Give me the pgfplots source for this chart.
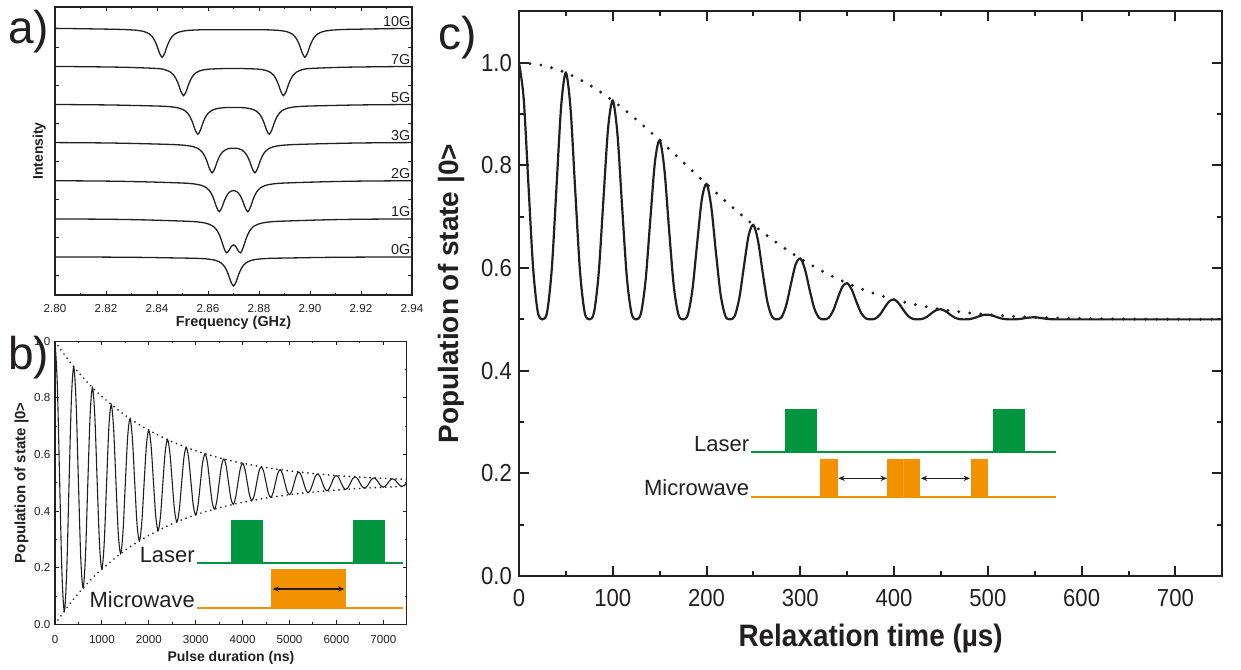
\documentclass[border=0pt]{standalone}
\usepackage{fontspec}
\setmainfont{Liberation Sans}
\newfontfamily\narrowfont[FakeStretch=0.9]{Liberation Sans}
\usepackage{pgfplots}
\pgfplotsset{compat=1.18}
\usetikzlibrary{arrows.meta}
\definecolor{lgreen}{RGB}{0,150,64}
\definecolor{morange}{RGB}{243,146,0}
\definecolor{ink}{RGB}{35,31,32}
\begin{document}
\begin{tikzpicture}[every node/.style={text=ink}]
\path[use as bounding box] (0,0) rectangle (620.5pt,334.5pt);

% ---------------- panel a ----------------
\begin{axis}[
 at={(27.5pt,187pt)}, anchor=south west, scale only axis,
 width=178.5pt, height=144pt,
 xmin=2.80, xmax=2.94, ymin=-1, ymax=6.55,
 xtick={2.80,2.82,2.84,2.86,2.88,2.90,2.92,2.94},
 minor x tick num=1,
 ytick={-0.5,0.5,1.5,2.5,3.5,4.5,5.5}, yticklabels={},
 tick align=inside, major tick length=2pt, minor tick length=1pt,
 axis line style={line width=0.6pt, ink},
 every tick/.style={line width=0.5pt, ink},
 xticklabel style={font=\fontsize{5.8}{6}\selectfont, yshift=-1.2pt,
   /pgf/number format/.cd, fixed, fixed zerofill, precision=2, assume math mode=true},
 xlabel={Frequency (GHz)}, ylabel={Intensity},
 every axis x label/.style={at={(axis description cs:0.5,-0.096)}, anchor=center, font=\bfseries\fontsize{7.2}{8}\selectfont},
 every axis y label/.style={at={(axis description cs:-0.044,0.5)}, anchor=center, rotate=90, font=\bfseries\fontsize{7}{8}\selectfont},
 clip=false,
]
\addplot[ink, line width=0.65pt, smooth] coordinates {(2.80,5.990)(2.81,5.981)(2.82,5.970)(2.827,5.960)(2.832,5.940)(2.835,5.905)(2.837,5.843)(2.838,5.782)(2.839,5.683)(2.840,5.531)(2.841,5.339)(2.842,5.232)(2.843,5.339)(2.844,5.530)(2.845,5.681)(2.846,5.780)(2.847,5.841)(2.849,5.901)(2.852,5.935)(2.857,5.952)(2.862,5.954)(2.870,5.954)(2.878,5.954)(2.883,5.952)(2.888,5.935)(2.891,5.901)(2.893,5.841)(2.894,5.780)(2.895,5.681)(2.896,5.530)(2.897,5.339)(2.898,5.232)(2.899,5.339)(2.900,5.531)(2.901,5.683)(2.902,5.782)(2.903,5.843)(2.905,5.905)(2.908,5.940)(2.913,5.960)(2.92,5.970)(2.93,5.981)(2.94,5.990)};
\addplot[ink, line width=0.65pt, smooth] coordinates {(2.80,4.993)(2.82,4.978)(2.83,4.965)(2.8404,4.936)(2.8434,4.900)(2.8454,4.838)(2.8464,4.776)(2.8474,4.677)(2.8484,4.525)(2.8494,4.334)(2.8504,4.226)(2.8514,4.332)(2.8524,4.522)(2.8534,4.673)(2.8544,4.771)(2.8554,4.831)(2.8574,4.890)(2.8604,4.921)(2.8654,4.935)(2.870,4.938)(2.8746,4.935)(2.8796,4.921)(2.8826,4.890)(2.8846,4.831)(2.8856,4.771)(2.8866,4.673)(2.8876,4.522)(2.8886,4.332)(2.8896,4.226)(2.8906,4.334)(2.8916,4.525)(2.8926,4.677)(2.8936,4.776)(2.8946,4.838)(2.8966,4.900)(2.8996,4.936)(2.91,4.965)(2.92,4.978)(2.94,4.993)};
\addplot[ink, line width=0.65pt, smooth] coordinates {(2.80,3.995)(2.82,3.983)(2.83,3.970)(2.841,3.952)(2.846,3.931)(2.849,3.893)(2.851,3.830)(2.852,3.767)(2.853,3.667)(2.854,3.514)(2.855,3.322)(2.856,3.214)(2.857,3.320)(2.858,3.510)(2.859,3.661)(2.860,3.759)(2.861,3.819)(2.863,3.878)(2.866,3.910)(2.870,3.916)(2.874,3.910)(2.877,3.878)(2.879,3.819)(2.880,3.759)(2.881,3.661)(2.882,3.510)(2.883,3.320)(2.884,3.214)(2.885,3.322)(2.886,3.514)(2.887,3.667)(2.888,3.767)(2.889,3.830)(2.891,3.893)(2.894,3.931)(2.899,3.952)(2.91,3.970)(2.92,3.983)(2.94,3.995)};
\addplot[ink, line width=0.65pt, smooth] coordinates {(2.80,2.996)(2.82,2.986)(2.835,2.966)(2.8466,2.943)(2.8516,2.919)(2.8546,2.881)(2.8566,2.818)(2.8576,2.756)(2.8586,2.656)(2.8596,2.503)(2.8606,2.311)(2.8616,2.202)(2.8626,2.307)(2.8636,2.496)(2.8646,2.644)(2.8656,2.740)(2.8666,2.797)(2.8676,2.828)(2.8686,2.845)(2.870,2.848)(2.8714,2.845)(2.8724,2.828)(2.8734,2.797)(2.8744,2.740)(2.8754,2.644)(2.8764,2.496)(2.8774,2.307)(2.8784,2.202)(2.8794,2.311)(2.8804,2.503)(2.8814,2.656)(2.8824,2.756)(2.8834,2.818)(2.8854,2.881)(2.8884,2.919)(2.8934,2.943)(2.905,2.966)(2.92,2.986)(2.94,2.996)};
\addplot[ink, line width=0.65pt, smooth] coordinates {(2.80,1.996)(2.82,1.986)(2.835,1.967)(2.8494,1.937)(2.8544,1.913)(2.8574,1.875)(2.8594,1.811)(2.8604,1.748)(2.8614,1.646)(2.8624,1.490)(2.8634,1.296)(2.8644,1.185)(2.8654,1.288)(2.8664,1.469)(2.8674,1.609)(2.8684,1.696)(2.8694,1.730)(2.870,1.736)(2.8706,1.730)(2.8716,1.696)(2.8726,1.609)(2.8736,1.469)(2.8746,1.288)(2.8756,1.185)(2.8766,1.296)(2.8776,1.490)(2.8786,1.646)(2.8796,1.748)(2.8806,1.811)(2.8826,1.875)(2.8856,1.913)(2.8906,1.937)(2.905,1.967)(2.92,1.986)(2.94,1.996)};
\addplot[ink, line width=0.65pt, smooth] coordinates {(2.80,0.995)(2.82,0.986)(2.835,0.969)(2.8522,0.932)(2.8572,0.906)(2.8602,0.861)(2.8622,0.793)(2.8632,0.723)(2.8642,0.614)(2.8652,0.450)(2.8662,0.242)(2.8672,0.105)(2.8682,0.167)(2.8692,0.281)(2.870,0.314)(2.8708,0.281)(2.8718,0.167)(2.8728,0.105)(2.8738,0.242)(2.8748,0.450)(2.8758,0.614)(2.8768,0.723)(2.8778,0.793)(2.8798,0.861)(2.8828,0.906)(2.8878,0.932)(2.905,0.969)(2.92,0.986)(2.94,0.995)};
\addplot[ink, line width=0.65pt, smooth] coordinates {(2.80,-0.002)(2.82,-0.007)(2.835,-0.015)(2.845,-0.026)(2.855,-0.038)(2.860,-0.057)(2.863,-0.092)(2.865,-0.153)(2.866,-0.214)(2.867,-0.313)(2.868,-0.465)(2.869,-0.656)(2.870,-0.763)(2.871,-0.656)(2.872,-0.465)(2.873,-0.313)(2.874,-0.214)(2.875,-0.153)(2.877,-0.092)(2.880,-0.057)(2.885,-0.038)(2.895,-0.026)(2.905,-0.015)(2.92,-0.007)(2.94,-0.002)};
\foreach \lab/\yy in {10G/6.05,7G/5.05,5G/4.05,3G/3.05,2G/2.05,1G/1.05,0G/0.05}{
  \edef\tmp{\noexpand\node[anchor=base east, inner sep=0.4pt, font=\noexpand\fontsize{7.2}{8}\noexpand\selectfont] at (axis cs:2.9398,\yy) {\lab};}\tmp
}
\end{axis}

% ---------------- panel b ----------------
\begin{axis}[
 at={(27.5pt,22.35pt)}, anchor=south west, scale only axis,
 width=175.9pt, height=141.5pt,
 xmin=0, xmax=7500, ymin=0, ymax=1,
 xtick={0,1000,2000,3000,4000,5000,6000,7000}, minor x tick num=1,
 ytick={0,0.2,0.4,0.6,0.8,1.0}, minor y tick num=1,
 scaled x ticks=false, scaled y ticks=false,
 tick align=inside, major tick length=2pt, minor tick length=1pt,
 axis line style={line width=0.6pt, ink},
 every tick/.style={line width=0.5pt, ink},
 xticklabel style={font=\fontsize{5.8}{6}\selectfont, yshift=-1.8pt,
   /pgf/number format/.cd, fixed, 1000 sep={}, assume math mode=true},
 yticklabel style={font=\fontsize{5.8}{6}\selectfont, xshift=1.2pt,
   /pgf/number format/.cd, fixed, fixed zerofill, precision=1, assume math mode=true},
 xlabel={Pulse duration (ns)}, ylabel={Population of state |0>},
 every axis x label/.style={at={(axis description cs:0.5,-0.119)}, anchor=center, font=\bfseries\fontsize{7}{8}\selectfont},
 every axis y label/.style={at={(axis description cs:-0.0947,0.5)}, anchor=center, rotate=90, font=\bfseries\fontsize{7.5}{8}\selectfont},
]
\addplot[ink, line width=0.55pt, smooth] coordinates {(0,1.0)(50,0.8449)(100,0.5)(150,0.1718)(200,0.0471)(250,0.1876)(300,0.5)(350,0.7973)(400,0.9102)(450,0.7829)(500,0.5)(550,0.2307)(600,0.1285)(650,0.2437)(700,0.5)(750,0.7439)(800,0.8365)(850,0.7321)(900,0.5)(950,0.2791)(1000,0.1952)(1050,0.2898)(1100,0.5)(1150,0.7001)(1200,0.7760)(1250,0.6904)(1300,0.5)(1350,0.3188)(1400,0.2500)(1450,0.3275)(1500,0.5)(1550,0.6641)(1600,0.7265)(1650,0.6562)(1700,0.5)(1750,0.3513)(1800,0.2949)(1850,0.3585)(1900,0.5)(1950,0.6346)(2000,0.6858)(2050,0.6281)(2100,0.5)(2150,0.3780)(2200,0.3317)(2250,0.3839)(2300,0.5)(2350,0.6105)(2400,0.6524)(2450,0.6051)(2500,0.5)(2550,0.4000)(2600,0.3620)(2650,0.4048)(2700,0.5)(2750,0.5906)(2800,0.6250)(2850,0.5862)(2900,0.5)(2950,0.4179)(3000,0.3868)(3050,0.4219)(3100,0.5)(3150,0.5743)(3200,0.6026)(3250,0.5707)(3300,0.5)(3350,0.4327)(3400,0.4071)(3450,0.4359)(3500,0.5)(3550,0.5610)(3600,0.5841)(3650,0.5580)(3700,0.5)(3750,0.4448)(3800,0.4238)(3850,0.4474)(3900,0.5)(3950,0.5500)(4000,0.5690)(4050,0.5476)(4100,0.5)(4150,0.4547)(4200,0.4375)(4250,0.4569)(4300,0.5)(4350,0.5410)(4400,0.5566)(4450,0.5391)(4500,0.5)(4550,0.4628)(4600,0.4487)(4650,0.4646)(4700,0.5)(4750,0.5337)(4800,0.5465)(4850,0.5320)(4900,0.5)(4950,0.4695)(5000,0.4579)(5050,0.4710)(5100,0.5)(5150,0.5276)(5200,0.5381)(5250,0.5263)(5300,0.5)(5350,0.4750)(5400,0.4655)(5450,0.4762)(5500,0.5)(5550,0.5227)(5600,0.5313)(5650,0.5216)(5700,0.5)(5750,0.4795)(5800,0.4717)(5850,0.4805)(5900,0.5)(5950,0.5186)(6000,0.5256)(6050,0.5177)(6100,0.5)(6150,0.4832)(6200,0.4768)(6250,0.4840)(6300,0.5)(6350,0.5153)(6400,0.5210)(6450,0.5145)(6500,0.5)(6550,0.4862)(6600,0.4809)(6650,0.4869)(6700,0.5)(6750,0.5125)(6800,0.5173)(6850,0.5119)(6900,0.5)(6950,0.4887)(7000,0.4844)(7050,0.4892)(7100,0.5)(7150,0.5103)(7200,0.5142)(7250,0.5098)(7300,0.5)(7350,0.4907)(7400,0.4872)(7450,0.4912)(7500,0.5)};
\addplot[ink, line width=0.95pt, line cap=round, dash pattern=on 0pt off 2.6pt, smooth] coordinates {(0,1.0)(250,0.9418)(500,0.8904)(750,0.8449)(1000,0.8048)(1500,0.7379)(2000,0.6858)(2500,0.6450)(3000,0.6132)(3500,0.5884)(4000,0.5690)(4500,0.5539)(5000,0.5421)(5500,0.5329)(6000,0.5256)(6500,0.5200)(7000,0.5156)(7500,0.5122)};
\addplot[ink, line width=0.95pt, line cap=round, dash pattern=on 0pt off 2.6pt, smooth] coordinates {(0,0.0)(250,0.0582)(500,0.1096)(750,0.1551)(1000,0.1952)(1500,0.2621)(2000,0.3142)(2500,0.3550)(3000,0.3868)(3500,0.4116)(4000,0.4310)(4500,0.4461)(5000,0.4579)(5500,0.4671)(6000,0.4744)(6500,0.4800)(7000,0.4844)(7500,0.4878)};
\draw[lgreen, line width=0.9pt] (axis cs:3022,0.2155) -- (axis cs:7421,0.2155);
\fill[lgreen] (axis cs:3753,0.2155) rectangle (axis cs:4429,0.3686);
\fill[lgreen] (axis cs:6361,0.2155) rectangle (axis cs:7037,0.3686);
\draw[morange, line width=0.9pt] (axis cs:3022,0.0565) -- (axis cs:7421,0.0565);
\fill[morange] (axis cs:4600,0.0565) rectangle (axis cs:6199,0.1943);
\draw[ink, {Stealth[length=3.2pt,width=2.6pt]}-{Stealth[length=3.2pt,width=2.6pt]}, line width=0.55pt] (axis cs:4640,0.1247) -- (axis cs:6170,0.1247);
\node[anchor=base east, inner sep=0.5pt, font=\fontsize{11}{12}\selectfont] at (axis cs:3010,0.2185) {Laser};
\node[anchor=base east, inner sep=0.5pt, font=\fontsize{11}{12}\selectfont] at (axis cs:3010,0.0595) {Microwave};
\end{axis}

% ---------------- panel c ----------------
\begin{axis}[
 at={(259.5pt,46.5pt)}, anchor=south west, scale only axis,
 width=351.65pt, height=282.3pt,
 xmin=0, xmax=750, ymin=0, ymax=1.1,
 xtick={0,100,200,300,400,500,600,700}, minor x tick num=1,
 ytick={0,0.2,0.4,0.6,0.8,1.0}, minor y tick num=1,
 tick align=inside, major tick length=5pt, minor tick length=2.5pt,
 axis line style={line width=1pt, ink},
 every tick/.style={line width=1pt, ink},
 xticklabel style={font=\narrowfont\fontsize{12.3}{13}\selectfont, yshift=-3.2pt,
   /pgf/number format/.cd, fixed, assume math mode=true},
 yticklabel style={font=\narrowfont\fontsize{12.3}{13}\selectfont,
   /pgf/number format/.cd, fixed, fixed zerofill, precision=1, assume math mode=true},
 xlabel={Relaxation time (µs)}, ylabel={Population of state |0>},
 every axis x label/.style={at={(axis description cs:0.5,-0.1098)}, anchor=center, font=\narrowfont\bfseries\fontsize{15.5}{17}\selectfont},
 every axis y label/.style={at={(axis description cs:-0.0957,0.5)}, anchor=center, rotate=90, font=\bfseries\fontsize{14}{16}\selectfont},
]
\addplot[ink, line width=1.1pt, smooth] coordinates {(0,1.0)(5,0.9300)(10,0.7643)(15,0.6012)(20,0.5147)(25,0.5)(30,0.5145)(35,0.5996)(40,0.7581)(45,0.9164)(50,0.9804)(55,0.9098)(60,0.7499)(65,0.5949)(70,0.5136)(75,0.5)(80,0.5133)(85,0.5905)(90,0.7326)(95,0.8723)(100,0.9261)(105,0.8606)(110,0.7182)(115,0.5822)(120,0.5117)(125,0.5)(130,0.5113)(135,0.5759)(140,0.6935)(145,0.8072)(150,0.8489)(155,0.7929)(160,0.6758)(165,0.5657)(170,0.5093)(175,0.5)(180,0.5088)(185,0.5587)(190,0.6486)(195,0.7341)(200,0.7637)(205,0.7196)(210,0.6307)(215,0.5485)(220,0.5068)(225,0.5)(230,0.5063)(235,0.5420)(240,0.6053)(245,0.6646)(250,0.6840)(255,0.6520)(260,0.5897)(265,0.5330)(270,0.5046)(275,0.5)(280,0.5042)(285,0.5277)(290,0.5689)(295,0.6069)(300,0.6185)(305,0.5971)(310,0.5569)(315,0.5208)(320,0.5029)(325,0.5)(330,0.5026)(335,0.5169)(340,0.5417)(345,0.5640)(350,0.5705)(355,0.5573)(360,0.5333)(365,0.5120)(370,0.5017)(375,0.5)(380,0.5015)(385,0.5095)(390,0.5232)(395,0.5354)(400,0.5387)(405,0.5312)(410,0.5180)(415,0.5065)(420,0.5009)(425,0.5)(430,0.5008)(435,0.5049)(440,0.5120)(445,0.5181)(450,0.5196)(455,0.5157)(460,0.5090)(465,0.5032)(470,0.5004)(475,0.5)(480,0.5004)(485,0.5024)(490,0.5057)(495,0.5085)(500,0.5092)(505,0.5073)(510,0.5041)(515,0.5015)(520,0.5002)(525,0.5)(530,0.5002)(535,0.5010)(540,0.5025)(545,0.5037)(550,0.5040)(555,0.5031)(560,0.5017)(565,0.5006)(570,0.5001)(575,0.5)(600,0.5)(650,0.5)(700,0.5)(750,0.5)};
\addplot[ink, line width=1.6pt, line cap=round, dash pattern=on 0pt off 5.5pt, smooth] coordinates {(0,1.0)(25,0.9950)(50,0.9804)(75,0.9570)(100,0.9261)(125,0.8894)(150,0.8489)(175,0.8063)(200,0.7637)(225,0.7225)(250,0.6840)(275,0.6491)(300,0.6185)(325,0.5923)(350,0.5705)(375,0.5527)(400,0.5387)(425,0.5278)(450,0.5196)(475,0.5135)(500,0.5092)(525,0.5061)(550,0.5040)(575,0.5025)(600,0.5016)(650,0.5006)(700,0.5002)(750,0.5001)};
\draw[lgreen, line width=1pt] (axis cs:247.6,0.241) -- (axis cs:573.1,0.241);
\fill[lgreen] (axis cs:284,0.241) rectangle (axis cs:317.8,0.3253);
\fill[lgreen] (axis cs:505.6,0.241) rectangle (axis cs:539.4,0.3253);
\draw[morange, line width=1pt] (axis cs:247.6,0.1545) -- (axis cs:573.1,0.1545);
\fill[morange] (axis cs:321.3,0.1545) rectangle (axis cs:339.7,0.228);
\fill[morange] (axis cs:392.9,0.1545) rectangle (axis cs:427.3,0.228);
\draw[morange!88!white, line width=0.25pt] (axis cs:409.9,0.1545) -- (axis cs:409.9,0.228);
\fill[morange] (axis cs:481.9,0.1545) rectangle (axis cs:500,0.228);
\draw[ink, {Stealth[length=3.2pt,width=2.6pt]}-{Stealth[length=3.2pt,width=2.6pt]}, line width=0.55pt] (axis cs:340.5,0.1903) -- (axis cs:392.5,0.1903);
\draw[ink, {Stealth[length=3.2pt,width=2.6pt]}-{Stealth[length=3.2pt,width=2.6pt]}, line width=0.55pt] (axis cs:428.5,0.1903) -- (axis cs:481,0.1903);
\node[anchor=base east, inner sep=0.5pt, font=\fontsize{11}{12}\selectfont] at (axis cs:247,0.2435) {Laser};
\node[anchor=base east, inner sep=0.5pt, font=\fontsize{11}{12}\selectfont] at (axis cs:247,0.157) {Microwave};
\end{axis}

% panel letters
\node[anchor=base west, inner sep=0pt, font=\fontsize{23}{24}\selectfont] at (4pt,312.75pt) {a)};
\node[anchor=base west, inner sep=0pt, font=\fontsize{23}{24}\selectfont] at (4pt,149.5pt) {b)};
\node[anchor=base west, inner sep=0pt, font=\fontsize{23}{24}\selectfont] at (219.2pt,309.5pt) {c)};
\end{tikzpicture}
\end{document}
